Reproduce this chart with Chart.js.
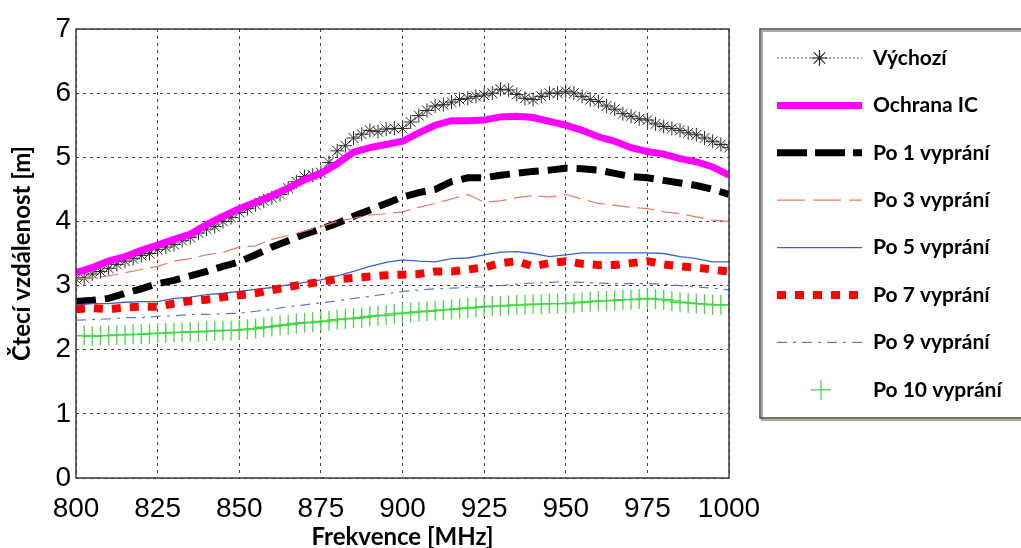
<!DOCTYPE html>
<html>
<head>
<meta charset="utf-8">
<script src="https://cdn.jsdelivr.net/npm/chart.js@4/dist/chart.umd.min.js"></script>
<style>
  html, body { margin: 0; padding: 0; background: #fff; }
  #wrap { width: 1021px; height: 548px; }
</style>
</head>
<body>
<div id="wrap"><canvas id="graf"></canvas></div>
<script>
// frekvence po 5 MHz (vetsina krivek)
var frekvence = [800, 805, 810, 815, 820, 825, 830, 835, 840, 845,
  850, 855, 860, 865, 870, 875, 880, 885, 890, 895,
  900, 905, 910, 915, 920, 925, 930, 935, 940, 945,
  950, 955, 960, 965, 970, 975, 980, 985, 990, 995, 1000];

// frekvence po 2.5 MHz (krivky se znackami)
var frekvenceJemne = [800, 802.5, 805, 807.5, 810, 812.5, 815, 817.5, 820, 822.5,
  825, 827.5, 830, 832.5, 835, 837.5, 840, 842.5, 845, 847.5,
  850, 852.5, 855, 857.5, 860, 862.5, 865, 867.5, 870, 872.5,
  875, 877.5, 880, 882.5, 885, 887.5, 890, 892.5, 895, 897.5,
  900, 902.5, 905, 907.5, 910, 912.5, 915, 917.5, 920, 922.5,
  925, 927.5, 930, 932.5, 935, 937.5, 940, 942.5, 945, 947.5,
  950, 952.5, 955, 957.5, 960, 962.5, 965, 967.5, 970, 972.5,
  975, 977.5, 980, 982.5, 985, 987.5, 990, 992.5, 995, 997.5, 1000];

var vychozi = [3.10, 3.12, 3.18, 3.22, 3.27, 3.33, 3.38, 3.42, 3.47, 3.50,
  3.56, 3.60, 3.64, 3.70, 3.75, 3.82, 3.88, 3.92, 4.00, 4.06,
  4.14, 4.20, 4.26, 4.32, 4.37, 4.42, 4.52, 4.62, 4.70, 4.72,
  4.76, 4.92, 5.10, 5.18, 5.30, 5.36, 5.42, 5.40, 5.44, 5.45,
  5.45, 5.55, 5.65, 5.73, 5.80, 5.82, 5.86, 5.90, 5.92, 5.95,
  5.97, 6.00, 6.06, 6.05, 5.98, 5.92, 5.90, 5.95, 6.00, 6.00,
  6.03, 6.00, 5.95, 5.90, 5.87, 5.80, 5.75, 5.68, 5.64, 5.60,
  5.58, 5.52, 5.48, 5.45, 5.42, 5.38, 5.35, 5.30, 5.25, 5.20, 5.15];

var ochranaIC = [3.20, 3.28, 3.38, 3.45, 3.55, 3.63, 3.72, 3.80, 3.95, 4.08,
  4.20, 4.30, 4.40, 4.52, 4.65, 4.75, 4.90, 5.08, 5.15, 5.20,
  5.25, 5.38, 5.50, 5.57, 5.57, 5.58, 5.63, 5.64, 5.62, 5.56,
  5.50, 5.42, 5.32, 5.25, 5.15, 5.09, 5.05, 4.98, 4.93, 4.85, 4.72];

var po1 = [2.75, 2.77, 2.80, 2.88, 2.95, 3.03, 3.08, 3.15, 3.22, 3.30,
  3.37, 3.48, 3.60, 3.70, 3.80, 3.88, 3.97, 4.08, 4.18, 4.28,
  4.38, 4.45, 4.50, 4.62, 4.68, 4.68, 4.72, 4.75, 4.78, 4.80,
  4.83, 4.82, 4.80, 4.75, 4.70, 4.68, 4.64, 4.60, 4.56, 4.50, 4.42];

var po3 = [3.10, 3.12, 3.15, 3.20, 3.25, 3.30, 3.38, 3.42, 3.48, 3.52,
  3.60, 3.62, 3.72, 3.78, 3.85, 3.92, 4.00, 4.05, 4.10, 4.12,
  4.15, 4.22, 4.28, 4.35, 4.42, 4.30, 4.32, 4.37, 4.40, 4.38,
  4.42, 4.35, 4.28, 4.25, 4.22, 4.20, 4.15, 4.12, 4.07, 4.02, 4.00];

var po5 = [2.70, 2.72, 2.72, 2.74, 2.75, 2.75, 2.80, 2.82, 2.86, 2.88,
  2.91, 2.94, 2.97, 3.01, 3.05, 3.09, 3.15, 3.22, 3.30, 3.36,
  3.40, 3.38, 3.37, 3.42, 3.43, 3.48, 3.52, 3.53, 3.50, 3.45,
  3.48, 3.51, 3.51, 3.51, 3.51, 3.51, 3.50, 3.45, 3.42, 3.37, 3.37];

var po7 = [2.63, 2.65, 2.63, 2.66, 2.67, 2.67, 2.72, 2.76, 2.78, 2.82,
  2.85, 2.88, 2.93, 2.98, 3.02, 3.06, 3.10, 3.12, 3.14, 3.16,
  3.17, 3.18, 3.22, 3.22, 3.25, 3.28, 3.35, 3.38, 3.30, 3.35,
  3.38, 3.34, 3.32, 3.32, 3.35, 3.38, 3.33, 3.30, 3.28, 3.25, 3.22];

var po9 = [2.46, 2.47, 2.48, 2.50, 2.50, 2.52, 2.53, 2.55, 2.55, 2.56,
  2.57, 2.60, 2.63, 2.67, 2.70, 2.73, 2.76, 2.80, 2.83, 2.87,
  2.91, 2.93, 2.95, 2.96, 2.97, 2.98, 3.00, 3.02, 3.04, 3.05,
  3.06, 3.05, 3.04, 3.03, 3.03, 3.03, 3.02, 3.00, 2.98, 2.96, 2.93];

var po10 = [2.22, 2.22, 2.21, 2.22, 2.22, 2.23, 2.23, 2.24, 2.24, 2.25,
  2.26, 2.26, 2.27, 2.27, 2.28, 2.28, 2.29, 2.29, 2.30, 2.30,
  2.31, 2.32, 2.33, 2.35, 2.36, 2.38, 2.39, 2.41, 2.42, 2.43,
  2.44, 2.45, 2.47, 2.48, 2.49, 2.50, 2.52, 2.53, 2.54, 2.56,
  2.57, 2.58, 2.59, 2.60, 2.61, 2.62, 2.63, 2.64, 2.65, 2.66,
  2.67, 2.68, 2.68, 2.69, 2.70, 2.70, 2.71, 2.71, 2.72, 2.72,
  2.72, 2.73, 2.74, 2.75, 2.76, 2.76, 2.77, 2.78, 2.78, 2.79,
  2.80, 2.79, 2.78, 2.76, 2.74, 2.73, 2.72, 2.71, 2.70, 2.70, 2.70];

var popisky = ['Výchozí', 'Ochrana IC', 'Po 1 vyprání', 'Po 3 vyprání',
  'Po 5 vyprání', 'Po 7 vyprání', 'Po 9 vyprání', 'Po 10 vyprání'];

function body(xs, ys) {
  return xs.map(function (x, i) { return { x: x, y: ys[i] }; });
}

var pismoOsy = "'Liberation Sans', Arial, sans-serif";
var pismoTucne = "Lato, 'Open Sans', sans-serif";

// ramecek kolem grafu + legenda vpravo
var ramecekALegenda = {
  id: 'ramecekALegenda',
  afterDatasetsDraw: function (chart) {
    var ctx = chart.ctx, a = chart.chartArea;
    ctx.save();
    ctx.strokeStyle = '#3a3a4a';
    ctx.lineWidth = 1.5;
    ctx.strokeRect(a.left, a.top, a.right - a.left, a.bottom - a.top);
    ctx.restore();
  },
  afterDraw: function (chart) {
    var ctx = chart.ctx;
    ctx.save();
    // box legendy
    ctx.strokeStyle = '#aaa';
    ctx.lineWidth = 2;
    ctx.strokeRect(762, 31, 280, 389);
    ctx.strokeStyle = '#4a4a3a';
    ctx.lineWidth = 1.5;
    ctx.strokeRect(760, 29, 280, 389);

    var x0 = 777, x1 = 862;
    chart.data.datasets.forEach(function (ds, i) {
      var y = 58 + i * 47.4;
      ctx.save();
      if (ds.showLine !== false) {
        ctx.strokeStyle = ds.borderColor;
        ctx.lineWidth = ds.borderWidth;
        ctx.setLineDash(ds.legendDash || ds.borderDash || []);
        ctx.beginPath();
        ctx.moveTo(x0, y);
        ctx.lineTo(x1, y);
        ctx.stroke();
      }
      ctx.setLineDash([]);
      if (ds.pointStyle === 'star') {
        ctx.strokeStyle = ds.pointBorderColor;
        ctx.lineWidth = 1.2;
        var r = 8, cx = (x0 + x1) / 2;
        ctx.beginPath();
        for (var k = 0; k < 4; k++) {
          var ang = k * Math.PI / 4;
          ctx.moveTo(cx - r * Math.sin(ang), y - r * Math.cos(ang));
          ctx.lineTo(cx + r * Math.sin(ang), y + r * Math.cos(ang));
        }
        ctx.stroke();
      } else if (ds.pointStyle === 'cross' && ds.showLine === false) {
        ctx.strokeStyle = ds.pointBorderColor;
        ctx.lineWidth = 1.2;
        var cx2 = 821, r2 = 10;
        ctx.beginPath();
        ctx.moveTo(cx2 - r2, y); ctx.lineTo(cx2 + r2, y);
        ctx.moveTo(cx2, y - r2); ctx.lineTo(cx2, y + r2);
        ctx.stroke();
      }
      ctx.restore();
      ctx.fillStyle = '#000';
      ctx.font = 'bold 21px ' + pismoTucne;
      ctx.textBaseline = 'middle';
      ctx.textAlign = 'left';
      ctx.fillText(ds.label, 873, y);
    });
    ctx.restore();
  }
};

var graf = new Chart(document.getElementById('graf'), {
  type: 'line',
  data: {
    datasets: [
      {
        label: popisky[0], data: body(frekvenceJemne, vychozi),
        borderColor: '#555', borderWidth: 1, borderDash: [2, 2],
        pointStyle: 'star', pointRadius: 7, pointBorderColor: '#2a2a2a',
        pointBorderWidth: 1, pointBackgroundColor: '#2a2a2a', order: 7
      },
      {
        label: popisky[1], data: body(frekvence, ochranaIC),
        borderColor: '#ff00ff', borderWidth: 7, pointRadius: 0, order: 6
      },
      {
        label: popisky[2], data: body(frekvence, po1),
        borderColor: '#000', borderWidth: 7, borderDash: [20, 9],
        legendDash: [30, 8], pointRadius: 0, order: 5
      },
      {
        label: popisky[3], data: body(frekvence, po3),
        borderColor: '#e87a64', borderWidth: 1.2, borderDash: [18, 7],
        legendDash: [28, 8], pointRadius: 0, order: 4
      },
      {
        label: popisky[4], data: body(frekvence, po5),
        borderColor: '#3f5fd0', borderWidth: 1.3, pointRadius: 0, order: 3
      },
      {
        label: popisky[5], data: body(frekvence, po7),
        borderColor: '#ff0000', borderWidth: 8, borderDash: [9, 9],
        pointRadius: 0, order: 2
      },
      {
        label: popisky[6], data: body(frekvence, po9),
        borderColor: '#5a78dd', borderWidth: 1.2, borderDash: [10, 6, 3, 6],
        pointRadius: 0, order: 1
      },
      {
        label: popisky[7], data: body(frekvenceJemne, po10),
        showLine: false, borderColor: '#33d633',
        pointStyle: 'cross', pointRadius: 10, pointBorderColor: '#45d845',
        pointBorderWidth: 1.3, order: 0
      }
    ]
  },
  options: {
    responsive: true,
    maintainAspectRatio: false,
    animation: false,
    layout: { padding: { left: 0, top: 29, right: 292, bottom: -4 } },
    plugins: {
      legend: { display: false },
      tooltip: { enabled: false }
    },
    scales: {
      x: {
        type: 'linear', min: 800, max: 1000,
        ticks: {
          stepSize: 25, color: '#000', padding: 14,
          maxRotation: 0, minRotation: 0, autoSkip: false,
          font: { family: pismoOsy, size: 28 },
          callback: function (v) { return String(v); }
        },
        grid: { color: '#444', drawTicks: false, lineWidth: 1 },
        border: { display: false, dash: [3, 4] },
        title: {
          display: true, text: 'Frekvence [MHz]', color: '#000',
          font: { family: pismoTucne, size: 24, weight: 'bold' },
          padding: { top: 0, bottom: 0 }
        },
        afterFit: function (s) { s.height = 74; }
      },
      y: {
        min: 0, max: 7,
        ticks: {
          stepSize: 1, color: '#000', padding: 5,
          font: { family: pismoOsy, size: 28 }
        },
        grid: { color: '#444', drawTicks: false, lineWidth: 1 },
        border: { display: false, dash: [3, 4] },
        title: {
          display: true, text: 'Čtecí vzdálenost [m]', color: '#000',
          font: { family: pismoTucne, size: 24, weight: 'bold' },
          padding: { top: 8, bottom: 0 }
        },
        afterFit: function (s) { s.width = 76; }
      }
    }
  },
  plugins: [ramecekALegenda]
});
</script>
</body>
</html>
